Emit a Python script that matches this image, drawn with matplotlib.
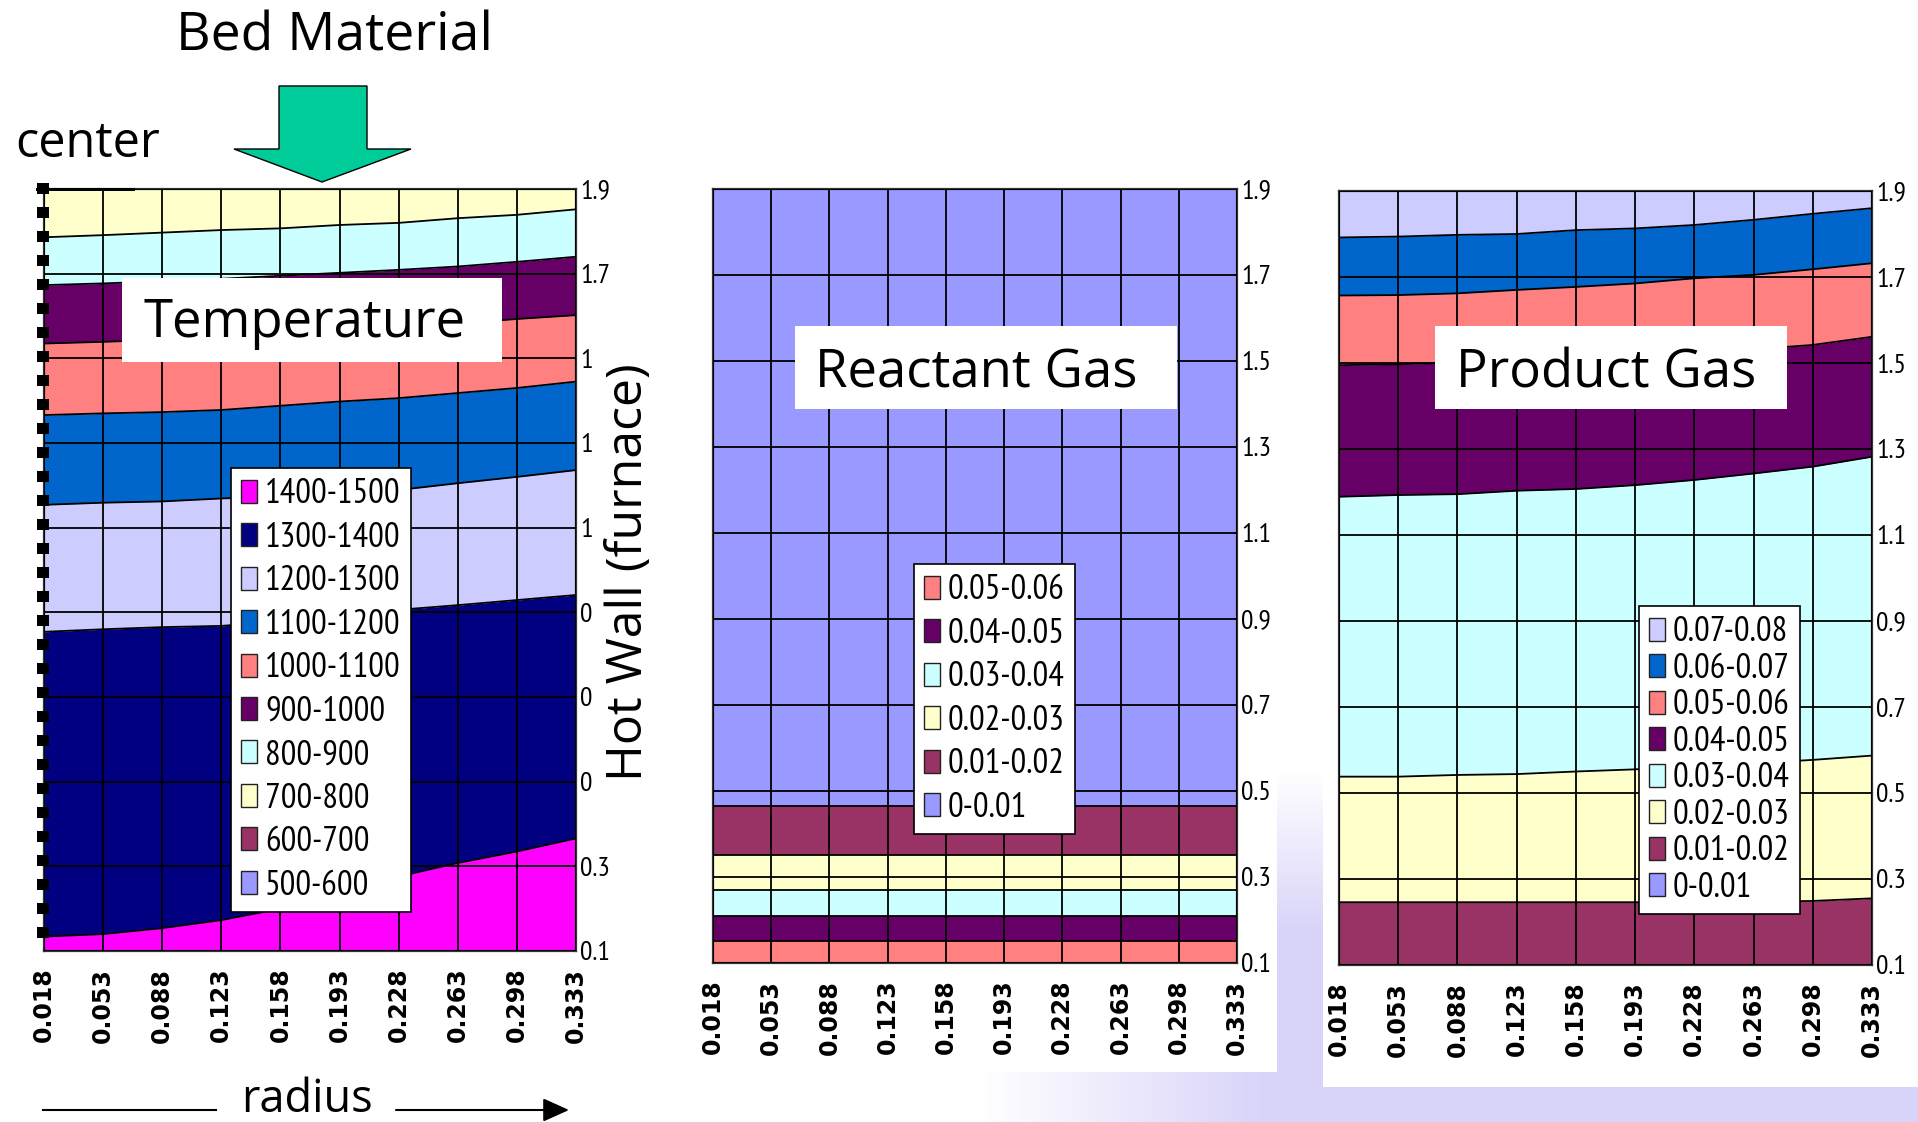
"""Temperature / reactant gas / product gas contour bands over radius and height."""
import numpy as np
import matplotlib
matplotlib.use("Agg")
import matplotlib.pyplot as plt
from matplotlib.patches import Patch, Rectangle, Polygon

plt.rcParams["lines.scale_dashes"] = False

W, H = 1918, 1122
TITLE_FONT = ["Open Sans", "DejaVu Sans"]
NARROW_FONT = ["PT Sans Narrow", "Roboto Condensed", "DejaVu Sans"]

radius = [0.018, 0.053, 0.088, 0.123, 0.158, 0.193, 0.228, 0.263, 0.298, 0.333]
radius_labels = ["0.018", "0.053", "0.088", "0.123", "0.158",
                 "0.193", "0.228", "0.263", "0.298", "0.333"]
height_ticks = [0.1, 0.3, 0.5, 0.7, 0.9, 1.1, 1.3, 1.5, 1.7, 1.9]
height_labels = ["0.1", "0.3", "0.5", "0.7", "0.9", "1.1", "1.3", "1.5", "1.7", "1.9"]
# the left panel's labels are clipped by the "Hot Wall" caption in the original
height_labels_clipped = ["0.1", "0.3", "0", "0", "0", "1", "1", "1", "1.7", "1.9"]

# Excel palette
MAGENTA, NAVY, LAVENDER, BLUE = "#FF00FF", "#000080", "#CCCCFF", "#0066CC"
SALMON, PURPLE, CYAN, YELLOW = "#FF8080", "#660066", "#CCFFFF", "#FFFFCC"
MAROON, PERI = "#993366", "#9999FF"

# --- Temperature: upper edge of each band, bottom to top ---
temp_top_1400 = [0.134, 0.140, 0.154, 0.173, 0.200, 0.235, 0.276, 0.308, 0.335, 0.366]
temp_top_1300 = [0.854, 0.860, 0.865, 0.868, 0.878, 0.890, 0.906, 0.917, 0.929, 0.941]
temp_top_1200 = [1.154, 1.159, 1.162, 1.169, 1.173, 1.181, 1.189, 1.205, 1.220, 1.236]
temp_top_1100 = [1.366, 1.370, 1.373, 1.378, 1.388, 1.398, 1.406, 1.418, 1.430, 1.445]
temp_top_1000 = [1.535, 1.539, 1.544, 1.550, 1.557, 1.564, 1.572, 1.582, 1.593, 1.602]
temp_top_900 = [1.673, 1.677, 1.682, 1.688, 1.695, 1.702, 1.709, 1.717, 1.728, 1.740]
temp_top_800 = [1.786, 1.791, 1.797, 1.803, 1.807, 1.815, 1.820, 1.831, 1.839, 1.852]
temp_legend = ["1400-1500", "1300-1400", "1200-1300", "1100-1200", "1000-1100",
               "900-1000", "800-900", "700-800", "600-700", "500-600"]
temp_colors = [MAGENTA, NAVY, LAVENDER, BLUE, SALMON, PURPLE, CYAN, YELLOW, MAROON, PERI]

# --- Reactant gas ---
react_top_005 = [0.152, 0.152, 0.152, 0.152, 0.152, 0.152, 0.152, 0.152, 0.152, 0.152]
react_top_004 = [0.210, 0.210, 0.210, 0.210, 0.210, 0.210, 0.210, 0.210, 0.210, 0.210]
react_top_003 = [0.270, 0.270, 0.270, 0.270, 0.270, 0.270, 0.270, 0.270, 0.270, 0.270]
react_top_002 = [0.351, 0.351, 0.351, 0.351, 0.351, 0.351, 0.351, 0.351, 0.351, 0.351]
react_top_001 = [0.465, 0.465, 0.465, 0.465, 0.465, 0.465, 0.465, 0.465, 0.465, 0.465]
react_legend = ["0.05-0.06", "0.04-0.05", "0.03-0.04", "0.02-0.03", "0.01-0.02", "0-0.01"]
react_colors = [SALMON, PURPLE, CYAN, YELLOW, MAROON, PERI]

# --- Product gas ---
prod_top_001 = [0.246, 0.246, 0.246, 0.246, 0.246, 0.246, 0.246, 0.247, 0.249, 0.255]
prod_top_002 = [0.538, 0.538, 0.542, 0.544, 0.550, 0.555, 0.562, 0.569, 0.577, 0.587]
prod_top_003 = [1.189, 1.193, 1.195, 1.203, 1.207, 1.216, 1.228, 1.243, 1.259, 1.282]
prod_top_004 = [1.495, 1.497, 1.501, 1.506, 1.511, 1.517, 1.524, 1.532, 1.542, 1.561]
prod_top_005 = [1.657, 1.658, 1.662, 1.670, 1.677, 1.685, 1.697, 1.705, 1.718, 1.732]
prod_top_006 = [1.792, 1.794, 1.798, 1.800, 1.809, 1.813, 1.821, 1.833, 1.847, 1.860]
prod_legend = ["0.07-0.08", "0.06-0.07", "0.05-0.06", "0.04-0.05",
               "0.03-0.04", "0.02-0.03", "0.01-0.02", "0-0.01"]
prod_colors = [LAVENDER, BLUE, SALMON, PURPLE, CYAN, YELLOW, MAROON, PERI]


def fig_rect(x0, y0, x1, y1):
    """Pixel box (top-left origin) -> figure fraction rect."""
    return [x0 / W, 1 - y1 / H, (x1 - x0) / W, (y1 - y0) / H]


def draw_panel(fig, box, bands, legend_labels, legend_colors, legend_xy, spacing,
               ylabels=height_labels):
    """bands: list of (colour, upper edge) from bottom to top; None = axis top."""
    ax = fig.add_axes(fig_rect(*box))
    ymin, ymax = height_ticks[0], height_ticks[-1]
    lower = [ymin] * len(radius)
    for color, top in bands:
        upper = top if top is not None else [ymax] * len(radius)
        ax.fill_between(radius, lower, upper, color=color, lw=0, zorder=1)
        if top is not None:
            ax.plot(radius, top, color="black", lw=1.3, zorder=2)
        lower = upper
    ax.set_xlim(radius[0], radius[-1])
    ax.set_ylim(ymin, ymax)
    ax.set_xticks(radius)
    ax.set_xticklabels(radius_labels, rotation=90, family="DejaVu Sans",
                       fontweight="bold", fontsize=17)
    ax.yaxis.tick_right()
    ax.set_yticks(height_ticks)
    ax.set_yticklabels(ylabels, family=NARROW_FONT, fontsize=20)
    ax.tick_params(axis="x", length=0, pad=12)
    ax.tick_params(axis="y", length=0, pad=3)
    ax.grid(True, color="black", lw=1.3)
    ax.set_axisbelow(False)
    for sp in ax.spines.values():
        sp.set_color("#333333")
        sp.set_linewidth(1.6)

    handles = [Patch(facecolor=c, edgecolor="#222222", lw=1.0, label=l)
               for l, c in zip(legend_labels, legend_colors)]
    leg = ax.legend(handles=handles, loc="upper left",
                    bbox_to_anchor=(legend_xy[0] / W, 1 - legend_xy[1] / H),
                    bbox_transform=fig.transFigure, borderaxespad=0,
                    prop={"family": NARROW_FONT, "size": 25},
                    fancybox=False, framealpha=1, edgecolor="black",
                    borderpad=0.3, labelspacing=spacing, handlelength=0.46,
                    handleheight=0.64, handletextpad=0.22)
    leg.get_frame().set_linewidth(1.2)
    leg.set_zorder(10)
    return ax


fig = plt.figure(figsize=(W / 100, H / 100), dpi=100)

# background: faint lavender slide artwork in the lower right
bg = fig.add_axes([0, 0, 1, 1], zorder=-5)
yy, xx = np.mgrid[0:H, 0:W]
alpha = np.clip((xx - 980) / 280, 0, 1) * np.clip((yy - 770) / 160, 0, 1) * 0.75
img = np.zeros((H, W, 4))
img[..., 0], img[..., 1], img[..., 2] = 0.80, 0.78, 0.97
img[..., 3] = alpha
bg.imshow(img, extent=(0, W, H, 0), aspect="auto", interpolation="bilinear")
bg.add_patch(Rectangle((600, 0), 677, 1072, fc="white", ec="none"))
bg.add_patch(Rectangle((1323, 0), 600, 1087, fc="white", ec="none"))
bg.set_xlim(0, W)
bg.set_ylim(H, 0)
bg.axis("off")

draw_panel(fig, (44, 189, 576, 951),
           [(MAGENTA, temp_top_1400), (NAVY, temp_top_1300), (LAVENDER, temp_top_1200),
            (BLUE, temp_top_1100), (SALMON, temp_top_1000), (PURPLE, temp_top_900),
            (CYAN, temp_top_800), (YELLOW, None)],
           temp_legend, temp_colors, (231, 468), 0.33, ylabels=height_labels_clipped)
draw_panel(fig, (713, 189, 1237, 963),
           [(SALMON, react_top_005), (PURPLE, react_top_004), (CYAN, react_top_003),
            (YELLOW, react_top_002), (MAROON, react_top_001), (PERI, None)],
           react_legend, react_colors, (914, 564), 0.33)
draw_panel(fig, (1339, 191, 1872, 965),
           [(MAROON, prod_top_001), (YELLOW, prod_top_002), (CYAN, prod_top_003),
            (PURPLE, prod_top_004), (SALMON, prod_top_005), (BLUE, prod_top_006),
            (LAVENDER, None)],
           prod_legend, prod_colors, (1639, 606), 0.13)

# overlay for slide annotations, in pixel coordinates
ov = fig.add_axes([0, 0, 1, 1], zorder=5)
ov.set_xlim(0, W)
ov.set_ylim(H, 0)
ov.axis("off")

ov.text(334, 50, "Bed Material", fontsize=38.5, family=TITLE_FONT, ha="center", va="baseline")
ov.add_patch(Polygon([(279, 86), (367, 86), (367, 149), (411, 149), (322, 182),
                      (234, 149), (279, 149)], closed=True, fc="#00CC99", ec="black", lw=1))
ov.text(15, 157, "center", fontsize=35, family=TITLE_FONT, va="baseline")
ov.plot([43, 43], [183, 938], color="black", lw=12 * 0.72, dashes=(11 * 0.72, 13 * 0.72),
        solid_capstyle="butt", dash_capstyle="butt")
ov.plot([37, 133], [189, 189], color="black", lw=3 * 0.72)

for (x0, y0, x1, y1), tx, ty, label in [
        ((122, 278, 502, 362), 143, 337, "Temperature"),
        ((795, 326, 1177, 409), 815, 387, "Reactant Gas"),
        ((1435, 326, 1787, 409), 1456, 387, "Product Gas")]:
    ov.add_patch(Rectangle((x0, y0), x1 - x0, y1 - y0, fc="white", ec="none"))
    ov.text(tx, ty, label, fontsize=38, family=TITLE_FONT, va="baseline")

ov.text(629, 572, "Hot Wall (furnace)", fontsize=36, family=TITLE_FONT, rotation=90,
        ha="center", va="center")

ov.text(241, 1112, "radius", fontsize=32.5, family=TITLE_FONT, va="baseline")
ov.plot([43, 216], [1110, 1110], color="black", lw=1.5)
ov.annotate("", xy=(569, 1110), xytext=(396, 1110),
            arrowprops=dict(arrowstyle="-|>,head_length=1.0,head_width=0.45",
                            mutation_scale=16, lw=1.5, color="black",
                            shrinkA=0, shrinkB=0))

fig.savefig("out.png", dpi=100)
